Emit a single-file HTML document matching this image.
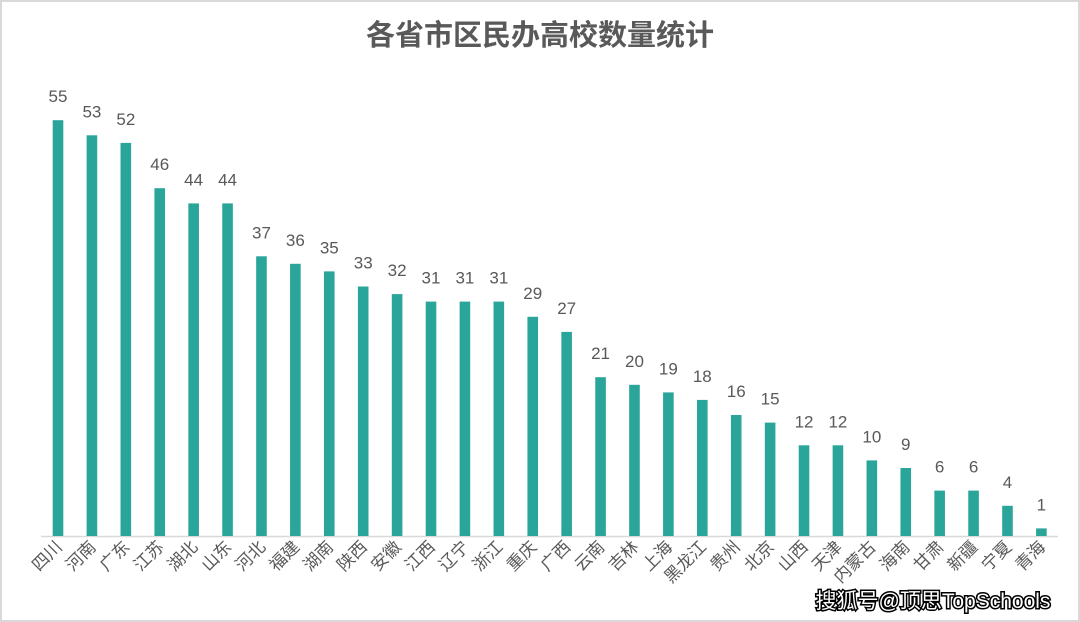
<!DOCTYPE html>
<html><head><meta charset="utf-8"><style>
html,body{margin:0;padding:0;background:#fff}
svg{display:block}
.v{font-size:17px;fill:#595959;text-anchor:middle}
.l{font-size:17px;fill:#595959;text-anchor:end}
.b{fill:#2aa59a}
</style></head><body>
<svg width="1080" height="622" xmlns="http://www.w3.org/2000/svg" font-family="'Liberation Sans','Noto Sans CJK SC',sans-serif">
<rect x="1" y="1" width="1078" height="620" fill="#fff" stroke="#d9d9d9" stroke-width="2"/>
<text x="540" y="45" text-anchor="middle" font-size="29" fill="#595959" font-weight="bold">各省市区民办高校数量统计</text>
<line x1="41" y1="536.5" x2="1058" y2="536.5" stroke="#d9d9d9" stroke-width="1.5"/>
<g transform="translate(58,0)"><rect class="b" x="-5.3" y="120.2" width="10.6" height="415.8"/><text class="v" x="0" y="102.2">55</text><text class="l" transform="translate(5,548) rotate(-45)">四川</text></g>
<g transform="translate(91.91,0)"><rect class="b" x="-5.3" y="135.3" width="10.6" height="400.7"/><text class="v" x="0" y="117.3">53</text><text class="l" transform="translate(5,548) rotate(-45)">河南</text></g>
<g transform="translate(125.82,0)"><rect class="b" x="-5.3" y="142.9" width="10.6" height="393.1"/><text class="v" x="0" y="124.9">52</text><text class="l" transform="translate(5,548) rotate(-45)">广东</text></g>
<g transform="translate(159.73,0)"><rect class="b" x="-5.3" y="188.2" width="10.6" height="347.8"/><text class="v" x="0" y="170.2">46</text><text class="l" transform="translate(5,548) rotate(-45)">江苏</text></g>
<g transform="translate(193.64,0)"><rect class="b" x="-5.3" y="203.4" width="10.6" height="332.6"/><text class="v" x="0" y="185.4">44</text><text class="l" transform="translate(5,548) rotate(-45)">湖北</text></g>
<g transform="translate(227.55,0)"><rect class="b" x="-5.3" y="203.4" width="10.6" height="332.6"/><text class="v" x="0" y="185.4">44</text><text class="l" transform="translate(5,548) rotate(-45)">山东</text></g>
<g transform="translate(261.46,0)"><rect class="b" x="-5.3" y="256.3" width="10.6" height="279.7"/><text class="v" x="0" y="238.3">37</text><text class="l" transform="translate(5,548) rotate(-45)">河北</text></g>
<g transform="translate(295.37,0)"><rect class="b" x="-5.3" y="263.8" width="10.6" height="272.2"/><text class="v" x="0" y="245.8">36</text><text class="l" transform="translate(5,548) rotate(-45)">福建</text></g>
<g transform="translate(329.28,0)"><rect class="b" x="-5.3" y="271.4" width="10.6" height="264.6"/><text class="v" x="0" y="253.4">35</text><text class="l" transform="translate(5,548) rotate(-45)">湖南</text></g>
<g transform="translate(363.19,0)"><rect class="b" x="-5.3" y="286.5" width="10.6" height="249.5"/><text class="v" x="0" y="268.5">33</text><text class="l" transform="translate(5,548) rotate(-45)">陕西</text></g>
<g transform="translate(397.1,0)"><rect class="b" x="-5.3" y="294.1" width="10.6" height="241.9"/><text class="v" x="0" y="276.1">32</text><text class="l" transform="translate(5,548) rotate(-45)">安徽</text></g>
<g transform="translate(431.01,0)"><rect class="b" x="-5.3" y="301.6" width="10.6" height="234.4"/><text class="v" x="0" y="283.6">31</text><text class="l" transform="translate(5,548) rotate(-45)">江西</text></g>
<g transform="translate(464.92,0)"><rect class="b" x="-5.3" y="301.6" width="10.6" height="234.4"/><text class="v" x="0" y="283.6">31</text><text class="l" transform="translate(5,548) rotate(-45)">辽宁</text></g>
<g transform="translate(498.83,0)"><rect class="b" x="-5.3" y="301.6" width="10.6" height="234.4"/><text class="v" x="0" y="283.6">31</text><text class="l" transform="translate(5,548) rotate(-45)">浙江</text></g>
<g transform="translate(532.74,0)"><rect class="b" x="-5.3" y="316.8" width="10.6" height="219.2"/><text class="v" x="0" y="298.8">29</text><text class="l" transform="translate(5,548) rotate(-45)">重庆</text></g>
<g transform="translate(566.65,0)"><rect class="b" x="-5.3" y="331.9" width="10.6" height="204.1"/><text class="v" x="0" y="313.9">27</text><text class="l" transform="translate(5,548) rotate(-45)">广西</text></g>
<g transform="translate(600.56,0)"><rect class="b" x="-5.3" y="377.2" width="10.6" height="158.8"/><text class="v" x="0" y="359.2">21</text><text class="l" transform="translate(5,548) rotate(-45)">云南</text></g>
<g transform="translate(634.47,0)"><rect class="b" x="-5.3" y="384.8" width="10.6" height="151.2"/><text class="v" x="0" y="366.8">20</text><text class="l" transform="translate(5,548) rotate(-45)">吉林</text></g>
<g transform="translate(668.38,0)"><rect class="b" x="-5.3" y="392.4" width="10.6" height="143.6"/><text class="v" x="0" y="374.4">19</text><text class="l" transform="translate(5,548) rotate(-45)">上海</text></g>
<g transform="translate(702.29,0)"><rect class="b" x="-5.3" y="399.9" width="10.6" height="136.1"/><text class="v" x="0" y="381.9">18</text><text class="l" transform="translate(5,548) rotate(-45)">黑龙江</text></g>
<g transform="translate(736.2,0)"><rect class="b" x="-5.3" y="415" width="10.6" height="121"/><text class="v" x="0" y="397">16</text><text class="l" transform="translate(5,548) rotate(-45)">贵州</text></g>
<g transform="translate(770.11,0)"><rect class="b" x="-5.3" y="422.6" width="10.6" height="113.4"/><text class="v" x="0" y="404.6">15</text><text class="l" transform="translate(5,548) rotate(-45)">北京</text></g>
<g transform="translate(804.02,0)"><rect class="b" x="-5.3" y="445.3" width="10.6" height="90.7"/><text class="v" x="0" y="427.3">12</text><text class="l" transform="translate(5,548) rotate(-45)">山西</text></g>
<g transform="translate(837.93,0)"><rect class="b" x="-5.3" y="445.3" width="10.6" height="90.7"/><text class="v" x="0" y="427.3">12</text><text class="l" transform="translate(5,548) rotate(-45)">天津</text></g>
<g transform="translate(871.84,0)"><rect class="b" x="-5.3" y="460.4" width="10.6" height="75.6"/><text class="v" x="0" y="442.4">10</text><text class="l" transform="translate(5,548) rotate(-45)">内蒙古</text></g>
<g transform="translate(905.75,0)"><rect class="b" x="-5.3" y="468" width="10.6" height="68"/><text class="v" x="0" y="450">9</text><text class="l" transform="translate(5,548) rotate(-45)">海南</text></g>
<g transform="translate(939.66,0)"><rect class="b" x="-5.3" y="490.6" width="10.6" height="45.4"/><text class="v" x="0" y="472.6">6</text><text class="l" transform="translate(5,548) rotate(-45)">甘肃</text></g>
<g transform="translate(973.57,0)"><rect class="b" x="-5.3" y="490.6" width="10.6" height="45.4"/><text class="v" x="0" y="472.6">6</text><text class="l" transform="translate(5,548) rotate(-45)">新疆</text></g>
<g transform="translate(1007.48,0)"><rect class="b" x="-5.3" y="505.8" width="10.6" height="30.2"/><text class="v" x="0" y="487.8">4</text><text class="l" transform="translate(5,548) rotate(-45)">宁夏</text></g>
<g transform="translate(1041.39,0)"><rect class="b" x="-5.3" y="528.4" width="10.6" height="7.6"/><text class="v" x="0" y="510.4">1</text><text class="l" transform="translate(5,548) rotate(-45)">青海</text></g>
<text x="933" y="608" text-anchor="middle" font-size="21" fill="#fff" stroke="#000" stroke-width="3" paint-order="stroke">搜狐号@顶思TopSchools</text>
</svg>
</body></html>
